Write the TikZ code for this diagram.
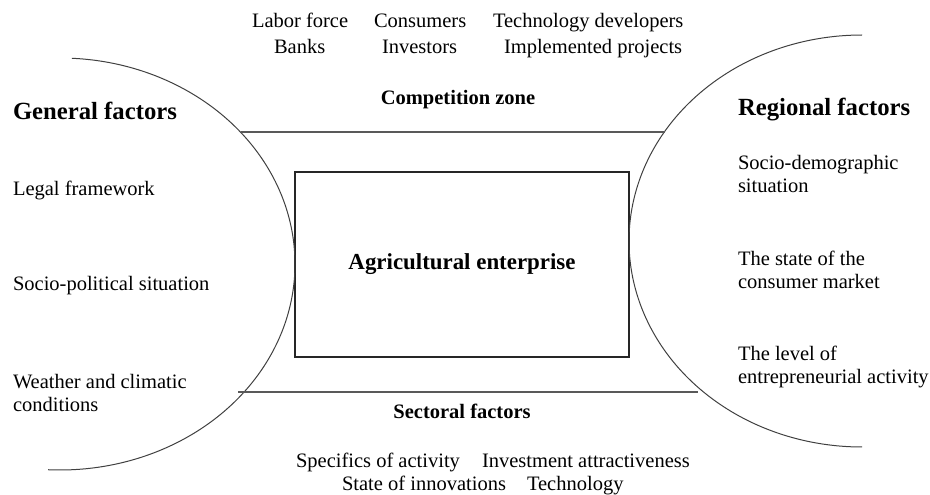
\documentclass[tikz,border=0pt]{standalone}
\usepackage{fontspec}
\setmainfont{Liberation Serif}
\begin{document}
\begin{tikzpicture}[x=1pt,y=-1pt,
  every node/.style={inner sep=0pt, outer sep=0pt},
  txt/.style={font=\fontsize{20.5}{22.5}\selectfont, anchor=base west, align=left},
  item/.style={font=\fontsize{20.5}{22.5}\selectfont, anchor=base west},
  head/.style={font=\fontsize{24.7}{28}\selectfont\bfseries, anchor=base west},
  zone/.style={font=\fontsize{20.5}{22.5}\selectfont\bfseries, anchor=base},
  corebox/.style={draw=black!85, line width=1.2pt, minimum width=334pt, minimum height=185pt,
                  font=\fontsize{22.9}{26}\selectfont\bfseries},
  bound/.style={draw=black!65, line width=1.4pt},
  curve/.style={draw=black!75, line width=1pt}]
\useasboundingbox (0,0) rectangle (930,495);

% central enterprise block
\node[corebox] (ent) at (462,264.5) {Agricultural enterprise};

% general factors (left half-ellipse)
\draw[curve] plot[domain=-87.1:92.9, samples=120, smooth] ({60+235*cos(\x)},{264+206*sin(\x)});
% regional factors (right half-ellipse)
\draw[curve] plot[domain=-90:-270, samples=120, smooth] ({862+233*cos(\x)},{241+206*sin(\x)});

% competition zone and sectoral boundaries
\coordinate (czl) at (241,132);
\coordinate (czr) at (665,132);
\coordinate (sfl) at (238,392);
\coordinate (sfr) at (698,392);
\draw[bound] (czl) -- (czr);
\draw[bound] (sfl) -- (sfr);

% competition zone
\node[item] (lab) at (252,28) {Labor force};
\node[item] (con) at (374,28) {Consumers};
\node[item] (tec) at (493,28) {Technology developers};
\node[item] (ban) at (274,54) {Banks};
\node[item] (inv) at (382,54) {Investors};
\node[item] (imp) at (504,54) {Implemented projects};
\node[zone] (cz) at (458,105) {Competition zone};

% sectoral factors
\node[zone] (sf) at (462,418) {Sectoral factors};
\node[item] (spe) at (296,467) {Specifics of activity};
\node[item] (ia) at (482,467) {Investment attractiveness};
\node[item] (soi) at (342,490) {State of innovations};
\node[item] (tch) at (527,490) {Technology};

% general factors (multi-line nodes are placed by their last baseline)
\node[head] (gf) at (13,120) {General factors};
\node[txt] (lf) at (13,195) {Legal framework};
\node[txt] (sp) at (13,290) {Socio-political situation};
\node[txt] (wc) at (13,411) {Weather and climatic\\conditions};

% regional factors
\node[head] (rf) at (738,115) {Regional factors};
\node[txt] (sd) at (738,192) {Socio-demographic\\situation};
\node[txt] (cm) at (738,288) {The state of the\\consumer market};
\node[txt] (ea) at (738,383) {The level of\\entrepreneurial activity};
\end{tikzpicture}
\end{document}
